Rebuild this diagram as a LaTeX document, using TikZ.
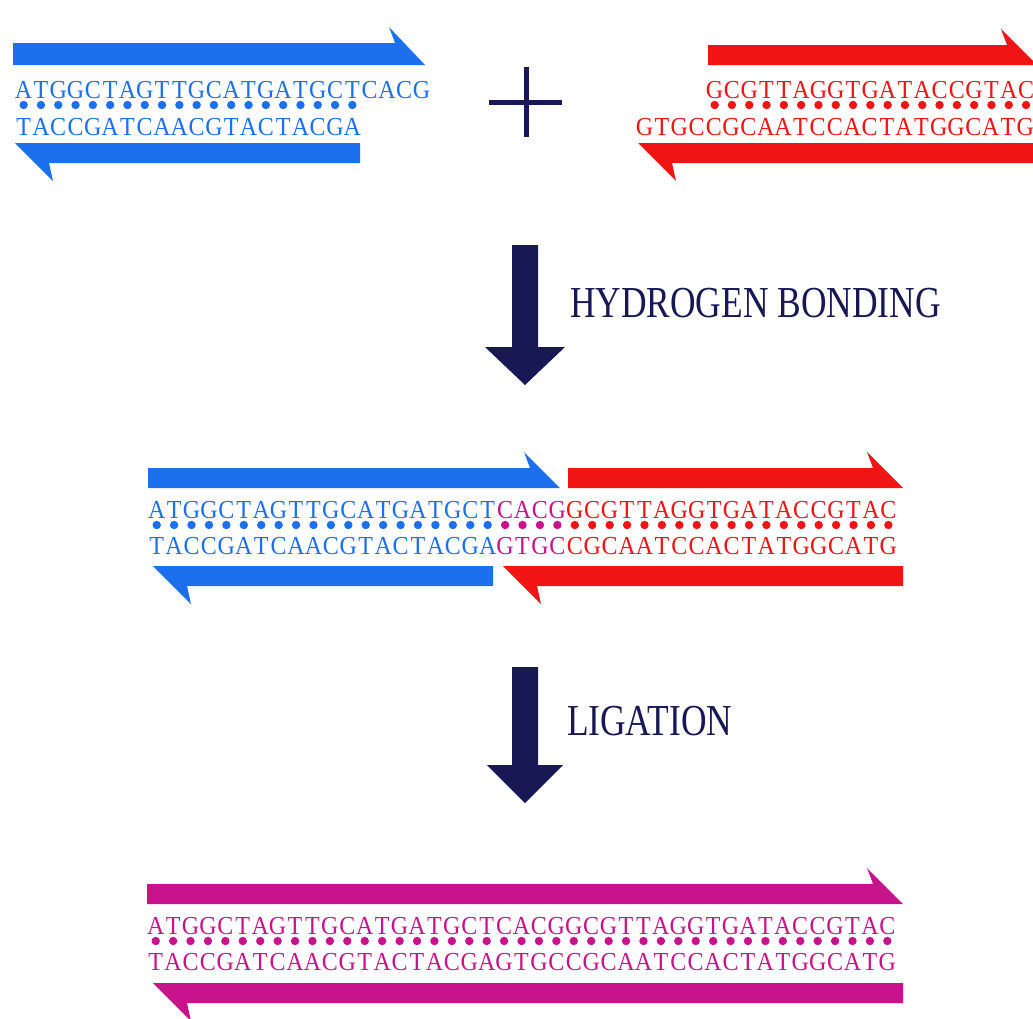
\documentclass[tikz,border=0pt]{standalone}
\usepackage{fontspec}
\setmainfont{Liberation Serif}
\usetikzlibrary{calc}

\definecolor{dnablue}{RGB}{28,112,238}
\definecolor{dnared}{RGB}{240,20,20}
\definecolor{dnamag}{RGB}{200,20,140}
\definecolor{stepnavy}{RGB}{24,24,84}

% each base sits in a cell of fixed width, so paired bases line up
\newlength\basepitch
\setlength\basepitch{17.42pt}
\def\seqloop#1{\ifx#1\relax\else\makebox[\basepitch]{\scalebox{1}[1.08]{#1}}\expandafter\seqloop\fi}
\newcommand\bases[1]{\seqloop#1\relax}

% row of hydrogen-bond dots: colour, first cell x, pitch, y, count
\newcommand\bondrow[5]{%
  \foreach \i in {1,...,#5} \fill[#1] ({#2+(\i-0.5)*#3},#4) circle (4.2pt);}

% strand arrow pointing right, barb above: colour, left x, tip x, top y, bottom y
\newcommand\harpright[5]{%
  \fill[#1] (#2,#4) -- ({#3-30},#4) -- ({#3-36},{#4-16}) -- (#3,#5) -- (#2,#5) -- cycle;}
% strand arrow pointing left, barb below: colour, tip x, right x, top y, bottom y
\newcommand\harpleft[5]{%
  \fill[#1] (#2,#4) -- (#3,#4) -- (#3,#5) -- ({#2+34},#5) -- ({#2+38},{#5+18}) -- cycle;}

% thick block arrow between two coordinates (vertical, pointing down)
\newcommand\blockdown[3]{%
  \fill[stepnavy] let \p1=(#1), \p2=(#2) in
    (\x1-13pt,\y1) -- (\x1+13pt,\y1) -- (\x1+13pt,\y2+38pt) -- (\x1+#3,\y2+38pt)
    -- (\x2,\y2) -- (\x1-#3,\y2+38pt) -- (\x1-13pt,\y2+38pt) -- cycle;}

\tikzset{
  strand/.style={anchor=base west, inner sep=0pt, outer sep=0pt,
    font=\fontsize{24}{24}\selectfont},
  tightstrand/.style={strand,
    font=\fontsize{24}{24}\selectfont\setlength\basepitch{17.3pt}},
  steplabel/.style={anchor=base west, inner sep=0pt, outer sep=0pt, text=stepnavy,
    font=\fontsize{35.4}{35}\selectfont},
}

\begin{document}
\begin{tikzpicture}[x=1pt,y=-1pt]
\useasboundingbox (0,0) rectangle (1033,1018);
\fill[white] (0,0) rectangle (1033,1018);
\clip (0,0) rectangle (1033,1018);

% ---- two separate fragments ----
\harpright{dnablue}{13}{425}{43}{65}
\harpleft{dnablue}{15}{360}{143}{163}
\node[tightstrand, text=dnablue] (tl-top) at (15,98) {\bases{ATGGCTAGTTGCATGATGCTCACG}};
\node[tightstrand, text=dnablue] (tl-bot) at (15,135) {\bases{TACCGATCAACGTACTACGA}};
\bondrow{dnablue}{15}{17.3}{105}{20}

\draw[stepnavy, line width=5pt] (526,67) -- (526,137) (489,102) -- (562,102);

\harpright{dnared}{708}{1037}{45}{65}
\harpleft{dnared}{638}{1045}{143}{163}
\node[tightstrand, text=dnared] (tr-top) at (706,98) {\bases{GCGTTAGGTGATACCGTAC}};
\node[tightstrand, text=dnared] (tr-bot) at (636,135) {\bases{GTGCCGCAATCCACTATGGCATG}};
\bondrow{dnared}{706}{17.3}{105}{19}

% ---- hydrogen bonding step ----
\coordinate (hb-from) at (525,245);
\coordinate (hb-to) at (525,385);
\blockdown{hb-from}{hb-to}{40pt}
\node[steplabel] (hb-label) at (570,317) {\scalebox{1}[1.25]{HYDROGEN BONDING}};

% ---- annealed fragments ----
\harpright{dnablue}{148}{560}{468}{488}
\harpright{dnared}{568}{903}{468}{488}
\harpleft{dnablue}{153}{493}{566}{586}
\harpleft{dnared}{503}{903}{566}{586}
\node[strand] (mid-top) at (148,518)
  {\textcolor{dnablue}{\bases{ATGGCTAGTTGCATGATGCT}}\textcolor{dnamag}{\bases{CACG}}\textcolor{dnared}{\bases{GCGTTAGGTGATACCGTAC}}};
\node[strand] (mid-bot) at (148,554)
  {\textcolor{dnablue}{\bases{TACCGATCAACGTACTACGA}}\textcolor{dnamag}{\bases{GTGC}}\textcolor{dnared}{\bases{CGCAATCCACTATGGCATG}}};
\bondrow{dnablue}{148}{17.42}{525}{20}
\bondrow{dnamag}{496.4}{17.42}{525}{4}
\bondrow{dnared}{566.1}{17.42}{525}{19}

% ---- ligation step ----
\coordinate (lig-from) at (525,667);
\coordinate (lig-to) at (525,803);
\blockdown{lig-from}{lig-to}{38pt}
\node[steplabel] (lig-label) at (567,735) {\scalebox{1}[1.25]{LIGATION}};

% ---- ligated product ----
\harpright{dnamag}{147}{903}{884}{904}
\harpleft{dnamag}{153}{903}{983}{1003}
\node[strand, text=dnamag] (fin-top) at (147,934) {\bases{ATGGCTAGTTGCATGATGCTCACGGCGTTAGGTGATACCGTAC}};
\node[strand, text=dnamag] (fin-bot) at (147,970) {\bases{TACCGATCAACGTACTACGAGTGCCGCAATCCACTATGGCATG}};
\bondrow{dnamag}{147}{17.42}{941}{43}
\end{tikzpicture}
\end{document}
